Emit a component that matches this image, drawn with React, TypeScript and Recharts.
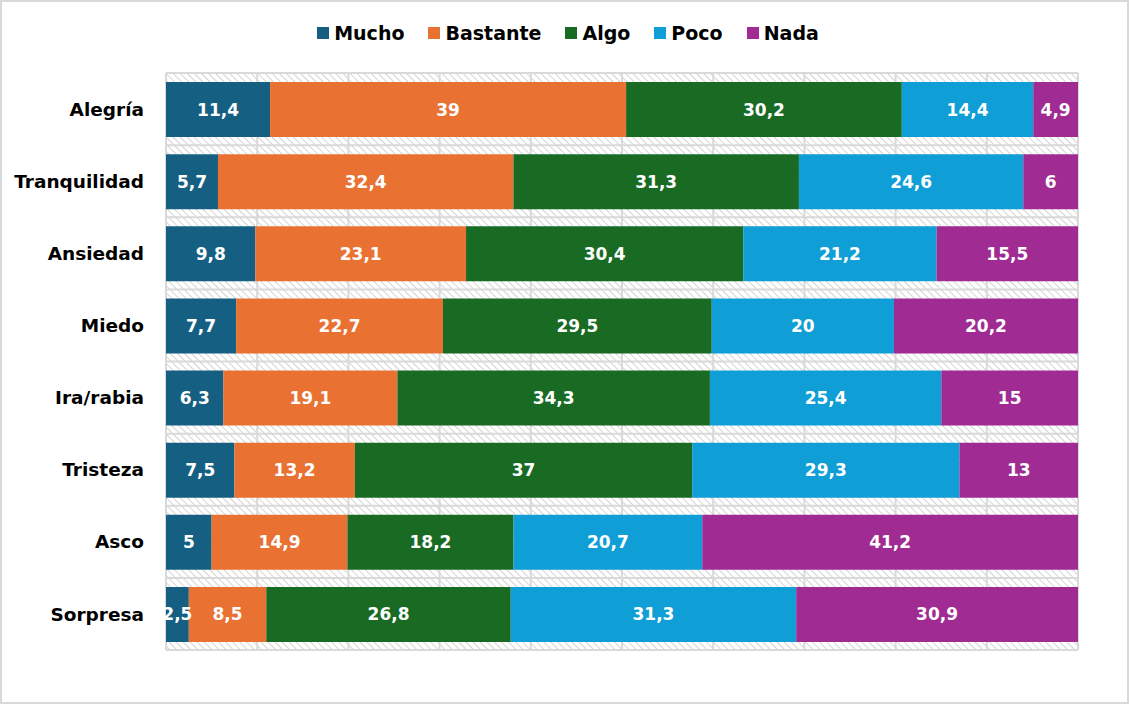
import React from 'react';
import { BarChart, Bar, XAxis, YAxis, CartesianGrid, LabelList } from 'recharts';

const categories = ['Alegría', 'Tranquilidad', 'Ansiedad', 'Miedo', 'Ira/rabia', 'Tristeza', 'Asco', 'Sorpresa'];
const mucho = [11.4, 5.7, 9.8, 7.7, 6.3, 7.5, 5, 2.5];
const bastante = [39, 32.4, 23.1, 22.7, 19.1, 13.2, 14.9, 8.5];
const algo = [30.2, 31.3, 30.4, 29.5, 34.3, 37, 18.2, 26.8];
const poco = [14.4, 24.6, 21.2, 20, 25.4, 29.3, 20.7, 31.3];
const nada = [4.9, 6, 15.5, 20.2, 15, 13, 41.2, 30.9];
const xTicks = [0, 0.1, 0.2, 0.3, 0.4, 0.5, 0.6, 0.7, 0.8, 0.9, 1];

const seriesKeys = ['mucho', 'bastante', 'algo', 'poco', 'nada'];
const seriesNames = ['Mucho', 'Bastante', 'Algo', 'Poco', 'Nada'];
const seriesColors = ['#156082', '#E97132', '#196B24', '#0F9ED5', '#A02B93'];

const data = categories.map((name, i) => ({
  name,
  mucho: mucho[i],
  bastante: bastante[i],
  algo: algo[i],
  poco: poco[i],
  nada: nada[i],
}));

const FONT = '"DejaVu Sans", sans-serif';
const fmt = (v: any) => String(v).replace('.', ',');

export default function App() {
  const W = 1129;
  const H = 704;
  return (
    <div style={{ position: 'absolute', left: 0, top: 0, width: W, height: H, fontFamily: FONT, background: '#fff' }}>
      <div style={{ position: 'absolute', inset: 0, border: '2px solid #d9d9d9', boxSizing: 'border-box' }} />
      <div
        style={{
          position: 'absolute',
          left: 0,
          width: 1136,
          top: 20,
          height: 26,
          display: 'flex',
          justifyContent: 'center',
          alignItems: 'center',
          gap: 24,
        }}
      >
        {seriesNames.map((n, i) => (
          <div key={n} style={{ display: 'flex', alignItems: 'center' }}>
            <span style={{ width: 12, height: 12, background: seriesColors[i], marginRight: 5, display: 'inline-block' }} />
            <span style={{ fontSize: 19, fontWeight: 'bold', color: '#000' }}>{n}</span>
          </div>
        ))}
      </div>
      <div style={{ position: 'absolute', left: 0, top: 0 }}>
        <BarChart
          width={W}
          height={H}
          data={data}
          layout="vertical"
          stackOffset="expand"
          margin={{ top: 73, right: 51, bottom: 54, left: 0 }}
        >
          <defs>
            <pattern id="hatch" width="5" height="5" patternUnits="userSpaceOnUse" patternTransform="rotate(-45)">
              <rect width="5" height="5" fill="#ffffff" />
              <line x1="0" y1="0" x2="0" y2="5" stroke="#d3d3d3" strokeWidth="2" />
            </pattern>
          </defs>
          <CartesianGrid
            fill="url(#hatch)"
            fillOpacity={1}
            stroke="#d9d9d9"
            strokeWidth={2}
            horizontalCoordinatesGenerator={({ offset }: any) =>
              categories.map((_, i) => offset.top + (i * offset.height) / categories.length).concat([offset.top + offset.height])
            }
          />
          <XAxis type="number" domain={[0, 1]} ticks={xTicks} hide />
          <YAxis
            type="category"
            dataKey="name"
            width={166}
            axisLine={false}
            tickLine={false}
            tickSize={0}
            tickMargin={22}
            tick={{ fill: '#000', fontSize: 18.5, fontWeight: 'bold', fontFamily: FONT }}
            interval={0}
          />
          {seriesKeys.map((k, i) => (
            <Bar key={k} dataKey={k} name={seriesNames[i]} stackId="a" fill={seriesColors[i]} barSize={55} isAnimationActive={false}>
              <LabelList
                dataKey={k}
                position="center"
                formatter={fmt}
                fill="#fff"
                style={{ fontSize: 17, fontWeight: 'bold', fontFamily: FONT }}
              />
            </Bar>
          ))}
        </BarChart>
      </div>
    </div>
  );
}
